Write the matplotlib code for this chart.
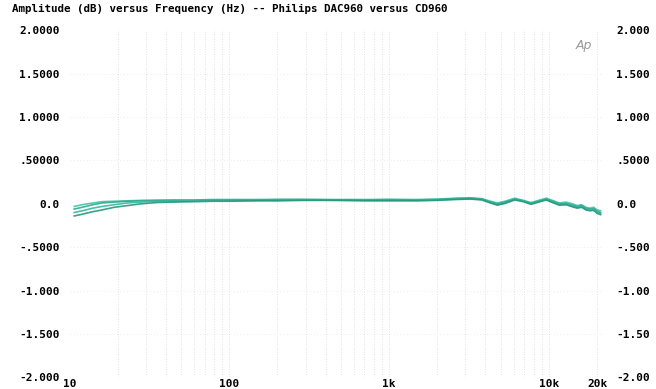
import numpy as np
import matplotlib.pyplot as plt
from matplotlib.ticker import FixedLocator, NullFormatter

# frequency points (Hz) and four measured response curves (dB)
freq = [10.7, 12, 14, 16, 19, 23, 28, 35, 45, 60, 80, 100, 150, 200, 300, 500,
        700, 1000, 1500, 2000, 2600, 3200, 3800, 4300, 4750, 5300, 6100, 6900,
        7700, 8600, 9600, 10500, 11600, 12800, 14000, 15000, 16000, 17000,
        18000, 19000, 20000, 21000]
ch1 = [-0.03, -0.01, 0.01, 0.025, 0.03, 0.035, 0.04, 0.04, 0.045, 0.045,
       0.05, 0.05, 0.05, 0.05, 0.05, 0.05, 0.05, 0.05, 0.05, 0.055, 0.065,
       0.07, 0.06, 0.03, 0.01, 0.03, 0.065, 0.04, 0.015, 0.04, 0.065, 0.04,
       0.01, 0.02, 0.00, -0.02, -0.01, -0.04, -0.05, -0.04, -0.07, -0.08]
ch2 = [-0.06, -0.04, -0.01, 0.01, 0.02, 0.03, 0.035, 0.04, 0.04, 0.04,
       0.045, 0.045, 0.045, 0.05, 0.05, 0.045, 0.045, 0.05, 0.045, 0.05, 0.06,
       0.065, 0.055, 0.02, 0.00, 0.02, 0.055, 0.035, 0.005, 0.03, 0.055, 0.03,
       0.00, 0.005, -0.015, -0.03, -0.02, -0.05, -0.06, -0.055, -0.085, -0.10]
ch3 = [-0.10, -0.08, -0.05, -0.03, -0.01, 0.01, 0.02, 0.03, 0.03, 0.035,
       0.04, 0.04, 0.04, 0.04, 0.045, 0.04, 0.04, 0.04, 0.04, 0.045, 0.055,
       0.06, 0.05, 0.015, -0.01, 0.01, 0.05, 0.03, 0.00, 0.025, 0.05, 0.02,
       -0.01, -0.005, -0.025, -0.04, -0.03, -0.06, -0.07, -0.065, -0.095, -0.11]
ch4 = [-0.14, -0.12, -0.09, -0.07, -0.04, -0.02, 0.00, 0.015, 0.02, 0.025,
       0.03, 0.03, 0.035, 0.035, 0.04, 0.04, 0.035, 0.035, 0.035, 0.04, 0.05,
       0.055, 0.045, 0.01, -0.015, 0.005, 0.045, 0.025, -0.005, 0.02, 0.045,
       0.015, -0.015, -0.01, -0.035, -0.05, -0.04, -0.07, -0.08, -0.075,
       -0.11, -0.125]
colors = ['#45c2a6', '#2eaa8c', '#3bb5a2', '#22997c']

yticks = [2.0, 1.5, 1.0, 0.5, 0.0, -0.5, -1.0, -1.5, -2.0]
left_labels = ['2.0000', '1.5000', '1.0000', '.50000', '0.0', '-.5000',
               '-1.000', '-1.500', '-2.000']
right_labels = ['2.000', '1.500', '1.000', '.5000', '0.0', '-.500',
                '-1.00', '-1.50', '-2.00']
xticks = [10, 100, 1000, 10000, 20000]
xlabels = ['10', '100', '1k', '10k', '20k']

fnt = dict(family='DejaVu Sans Mono', fontweight='bold', fontsize=8)

fig = plt.figure(figsize=(6.56, 3.89), dpi=100)
ax = fig.add_axes([0.106, 0.03, 0.812, 0.892])

for y, c in zip([ch1, ch2, ch3, ch4], colors):
    ax.plot(freq, y, color=c, lw=1.2, alpha=0.9)

ax.set_xscale('log')
ax.set_xlim(10, 21500)
ax.set_ylim(-2.0, 2.0)

# faint dotted grid like the analyser printout
minors = [m * 10 ** e for e in range(1, 5) for m in range(2, 10)]
minors = [f for f in minors if f < 21500]
for f in minors + [100, 1000, 10000]:
    ax.axvline(f, color='#d8d8d8', lw=0.6, ls=(0, (1, 2)), zorder=0)
for y in [1.5, 1.0, 0.5, -0.5, -1.0, -1.5]:
    ax.axhline(y, color='#e4e4e4', lw=0.6, ls=(0, (1, 3)), zorder=0)

for s in ax.spines.values():
    s.set_visible(False)

ax.xaxis.set_major_locator(FixedLocator(xticks))
ax.xaxis.set_minor_formatter(NullFormatter())
ax.set_xticklabels(xlabels, **fnt)
ax.tick_params(axis='x', which='both', length=0, pad=1)
ax.set_yticks(yticks)
ax.set_yticklabels(left_labels, **fnt)
ax.tick_params(axis='y', length=0, pad=7)

ax2 = ax.twinx()
ax2.set_ylim(-2.0, 2.0)
ax2.set_yticks(yticks)
ax2.set_yticklabels(right_labels, **fnt)
ax2.tick_params(axis='y', length=0, pad=10)
for s in ax2.spines.values():
    s.set_visible(False)

fig.text(0.018, 0.99, 'Amplitude (dB) versus Frequency (Hz) -- Philips DAC960 versus CD960',
         ha='left', va='top', family='DejaVu Sans Mono', fontweight='bold',
         fontsize=7.8)
ax.text(0.965, 0.975, 'Ap', transform=ax.transAxes, ha='center', va='top',
        fontsize=9, color='#999999', style='italic')

fig.savefig('out.png', dpi=100)
